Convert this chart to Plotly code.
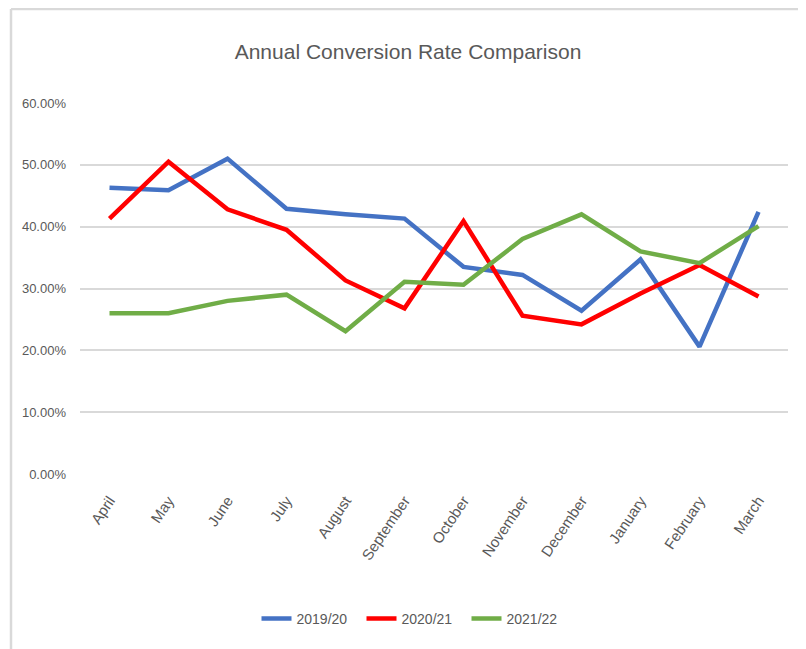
import plotly.graph_objects as go

months = ["April", "May", "June", "July", "August", "September", "October",
          "November", "December", "January", "February", "March"]
rate_2019_20 = [46.3, 45.9, 51.0, 42.9, 42.0, 41.3, 33.5, 32.2, 26.4, 34.7, 20.6, 42.4]
rate_2020_21 = [41.3, 50.5, 42.8, 39.5, 31.3, 26.8, 40.9, 25.6, 24.2, 29.2, 33.8, 28.7]
rate_2021_22 = [26.0, 26.0, 28.0, 29.0, 23.1, 31.1, 30.6, 38.0, 42.0, 36.0, 34.1, 40.1]
series_names = ["2019/20", "2020/21", "2021/22"]
colors = ["#4472C4", "#FF0000", "#70AD47"]
y_ticks = [0, 10, 20, 30, 40, 50, 60]

W, H = 806, 649
OFF = 8  # page body margin offset
# target page-pixel positions of plot area
PL, PR, PT, PB = 80, 788, 103, 474
L = PL - OFF
T = PT - OFF
R = W - (PR - OFF)
B = H - (PB - OFF)

fig = go.Figure()
for name, vals, col in zip(series_names, [rate_2019_20, rate_2020_21, rate_2021_22], colors):
    fig.add_trace(go.Scatter(
        x=months, y=[v / 100 for v in vals], name=name, mode="lines",
        line=dict(color=col, width=4.5), hoverinfo="x+y+name"))

def px_x(p):
    return (p - OFF - L) / (W - L - R)

def px_y(p):
    return (H - B - (p - OFF)) / (H - T - B)

border = dict(color="#D9D9D9", width=2.5)
shapes = [
    dict(type="line", xref="paper", yref="paper", x0=px_x(11), x1=px_x(11), y0=px_y(9), y1=px_y(H + 20), line=border),
    dict(type="line", xref="paper", yref="paper", x0=px_x(11), x1=px_x(815), y0=px_y(9), y1=px_y(9), line=border),
    dict(type="line", xref="paper", yref="paper", x0=px_x(805), x1=px_x(805), y0=px_y(9), y1=px_y(H + 20), line=dict(color="#E6E6E6", width=1.5)),
]

fig.update_layout(
    width=W, height=H,
    margin=dict(l=L, r=R, t=T, b=B, autoexpand=False),
    paper_bgcolor="white", plot_bgcolor="white",
    font=dict(family="Liberation Sans, Arial, sans-serif", color="#595959"),
    title=dict(text="Annual Conversion Rate Comparison", xref="container", x=(408 - OFF) / W,
               xanchor="center", yref="container", y=1 - (52 - OFF) / H, yanchor="middle",
               font=dict(size=21, color="#595959")),
    xaxis=dict(showgrid=False, showline=False, zeroline=False, tickangle=-56,
               tickfont=dict(size=15, color="#595959"), ticks="",
               range=[-0.5, 11.5], automargin=False, ticklabelstandoff=14),
    yaxis=dict(range=[0, 0.6], tickvals=[t / 100 for t in y_ticks], tickformat=".2%",
               gridcolor="#D9D9D9", gridwidth=1.5, zeroline=False, showline=False,
               tickfont=dict(size=13, color="#595959"), ticks="", ticklabelstandoff=13,
               automargin=False),
    legend=dict(orientation="h", xref="container", x=(414 - OFF) / W, xanchor="center",
                yref="container", y=1 - (619 - OFF) / H, yanchor="middle",
                font=dict(size=14, color="#595959"), itemwidth=30,
                entrywidth=60, entrywidthmode="pixels", tracegroupgap=0),
    shapes=shapes,
    showlegend=True,
)

fig.write_html("out.html")
